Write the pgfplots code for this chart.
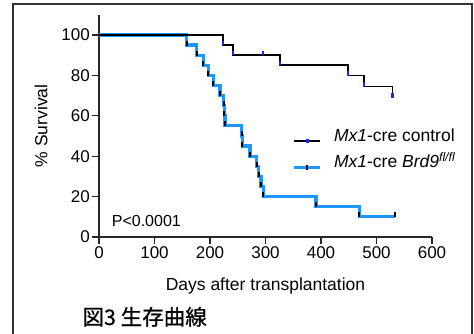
\documentclass[border=0pt]{standalone}
\usepackage{fontspec}
\setmainfont{Liberation Sans}
\newfontfamily\cjk[FakeBold=0.7]{Noto Sans CJK JP}
\usepackage{pgfplots}
\usepackage{pgfplotstable}
\pgfplotsset{compat=1.18}
\definecolor{kmblue}{RGB}{30,150,255}
\definecolor{mkblue}{RGB}{20,40,255}

\pgfplotstableread{
x y
0 100
223 95
241 90
295 90
326 85
449 80
477 74.5
529 69
529 69
}\control

\pgfplotstableread{
x y
0 100
158 95
176 90
188 85
197 80
206 75
218 70
225 65
226 60
227 55
257 50
258 45
272 40
284 35
288 30
292 25
296 20
391 15
469 10
533 10
}\brd

\begin{document}
\begin{tikzpicture}
\useasboundingbox (0pt,0pt) rectangle (474pt,334pt);
\draw[line width=1.7pt, black!80] (13pt,-10pt) -- (13pt,330pt) -- (472pt,330pt) -- (472pt,-10pt);
\begin{axis}[
  at={(99pt,97pt)}, anchor=south west,
  scale only axis, width=333pt, height=222.2pt,
  xmin=0, xmax=600, ymin=0, ymax=110,
  axis lines*=left,
  xtick={0,100,...,600}, ytick={0,20,...,100},
  tick align=outside, major tick length=7pt,
  every tick/.style={line width=1.2pt, black!85},
  axis line style={line width=1.2pt, black!85},
  clip=false,
  /pgf/number format/assume math mode=true,
  ticklabel style={font=\fontsize{17}{19}\selectfont},
  yticklabel style={inner xsep=2pt},
  xticklabel style={inner ysep=2pt},
  xlabel={Days after transplantation},
  ylabel={\% Survival},
  label style={font=\fontsize{17.5}{20}\selectfont},
  xlabel style={at={(axis description cs:0.5,-0.2408)}, anchor=base},
  ylabel style={at={(axis description cs:-0.1547,0.5)}, anchor=base, rotate=0},
  legend style={at={(axis cs:349,53.75)}, anchor=north west, draw=none, fill=none,
    font=\fontsize{17.5}{21}\selectfont, row sep=9pt, inner sep=0pt,
    nodes={inner sep=0pt, text height=13pt, text depth=4pt}, column sep=12pt},
  legend cell align=left,
  legend image code/.code={\draw[yshift=-4pt,mark repeat=2,mark phase=2,#1] plot coordinates {(0pt,0pt) (13pt,0pt) (26pt,0pt)};},
]
\addplot[const plot, color=kmblue, line width=3.2pt, forget plot] table[x=x,y=y] {\brd};
\addplot[const plot, black, line width=1.7pt, forget plot] table[x=x,y=y] {\control};
\addplot[only marks, mark=|, mark size=2.5pt, mark options={black, line width=2pt, yshift=2pt}, skip coords between index={0}{1}, forget plot] table[x=x,y=y] {\brd};
\addplot[only marks, mark=|, mark size=2.2pt, mark options={mkblue, line width=2.4pt, yshift=2pt}, skip coords between index={0}{1}, forget plot] table[x=x,y=y] {\control};
\addlegendimage{black, line width=1.7pt, mark=|, mark options={mkblue, line width=2.4pt, mark size=2.2pt}}
\addlegendentry{\textit{Mx1}-cre control}
\addlegendimage{kmblue, line width=3.2pt, mark=|, mark options={black, line width=2pt, mark size=2.5pt}}
\addlegendentry{\textit{Mx1}-cre \textit{Brd9}\textsuperscript{\textit{fl/fl}}}
\node[anchor=base west, font=\fontsize{16}{18}\selectfont] at (axis cs:16.8,5.4) {P<0.0001};
\end{axis}
\node[anchor=base west, font=\cjk\fontsize{21.5}{24}\selectfont] at (79pt,9pt) {図3 生存曲線};
\end{tikzpicture}
\end{document}
